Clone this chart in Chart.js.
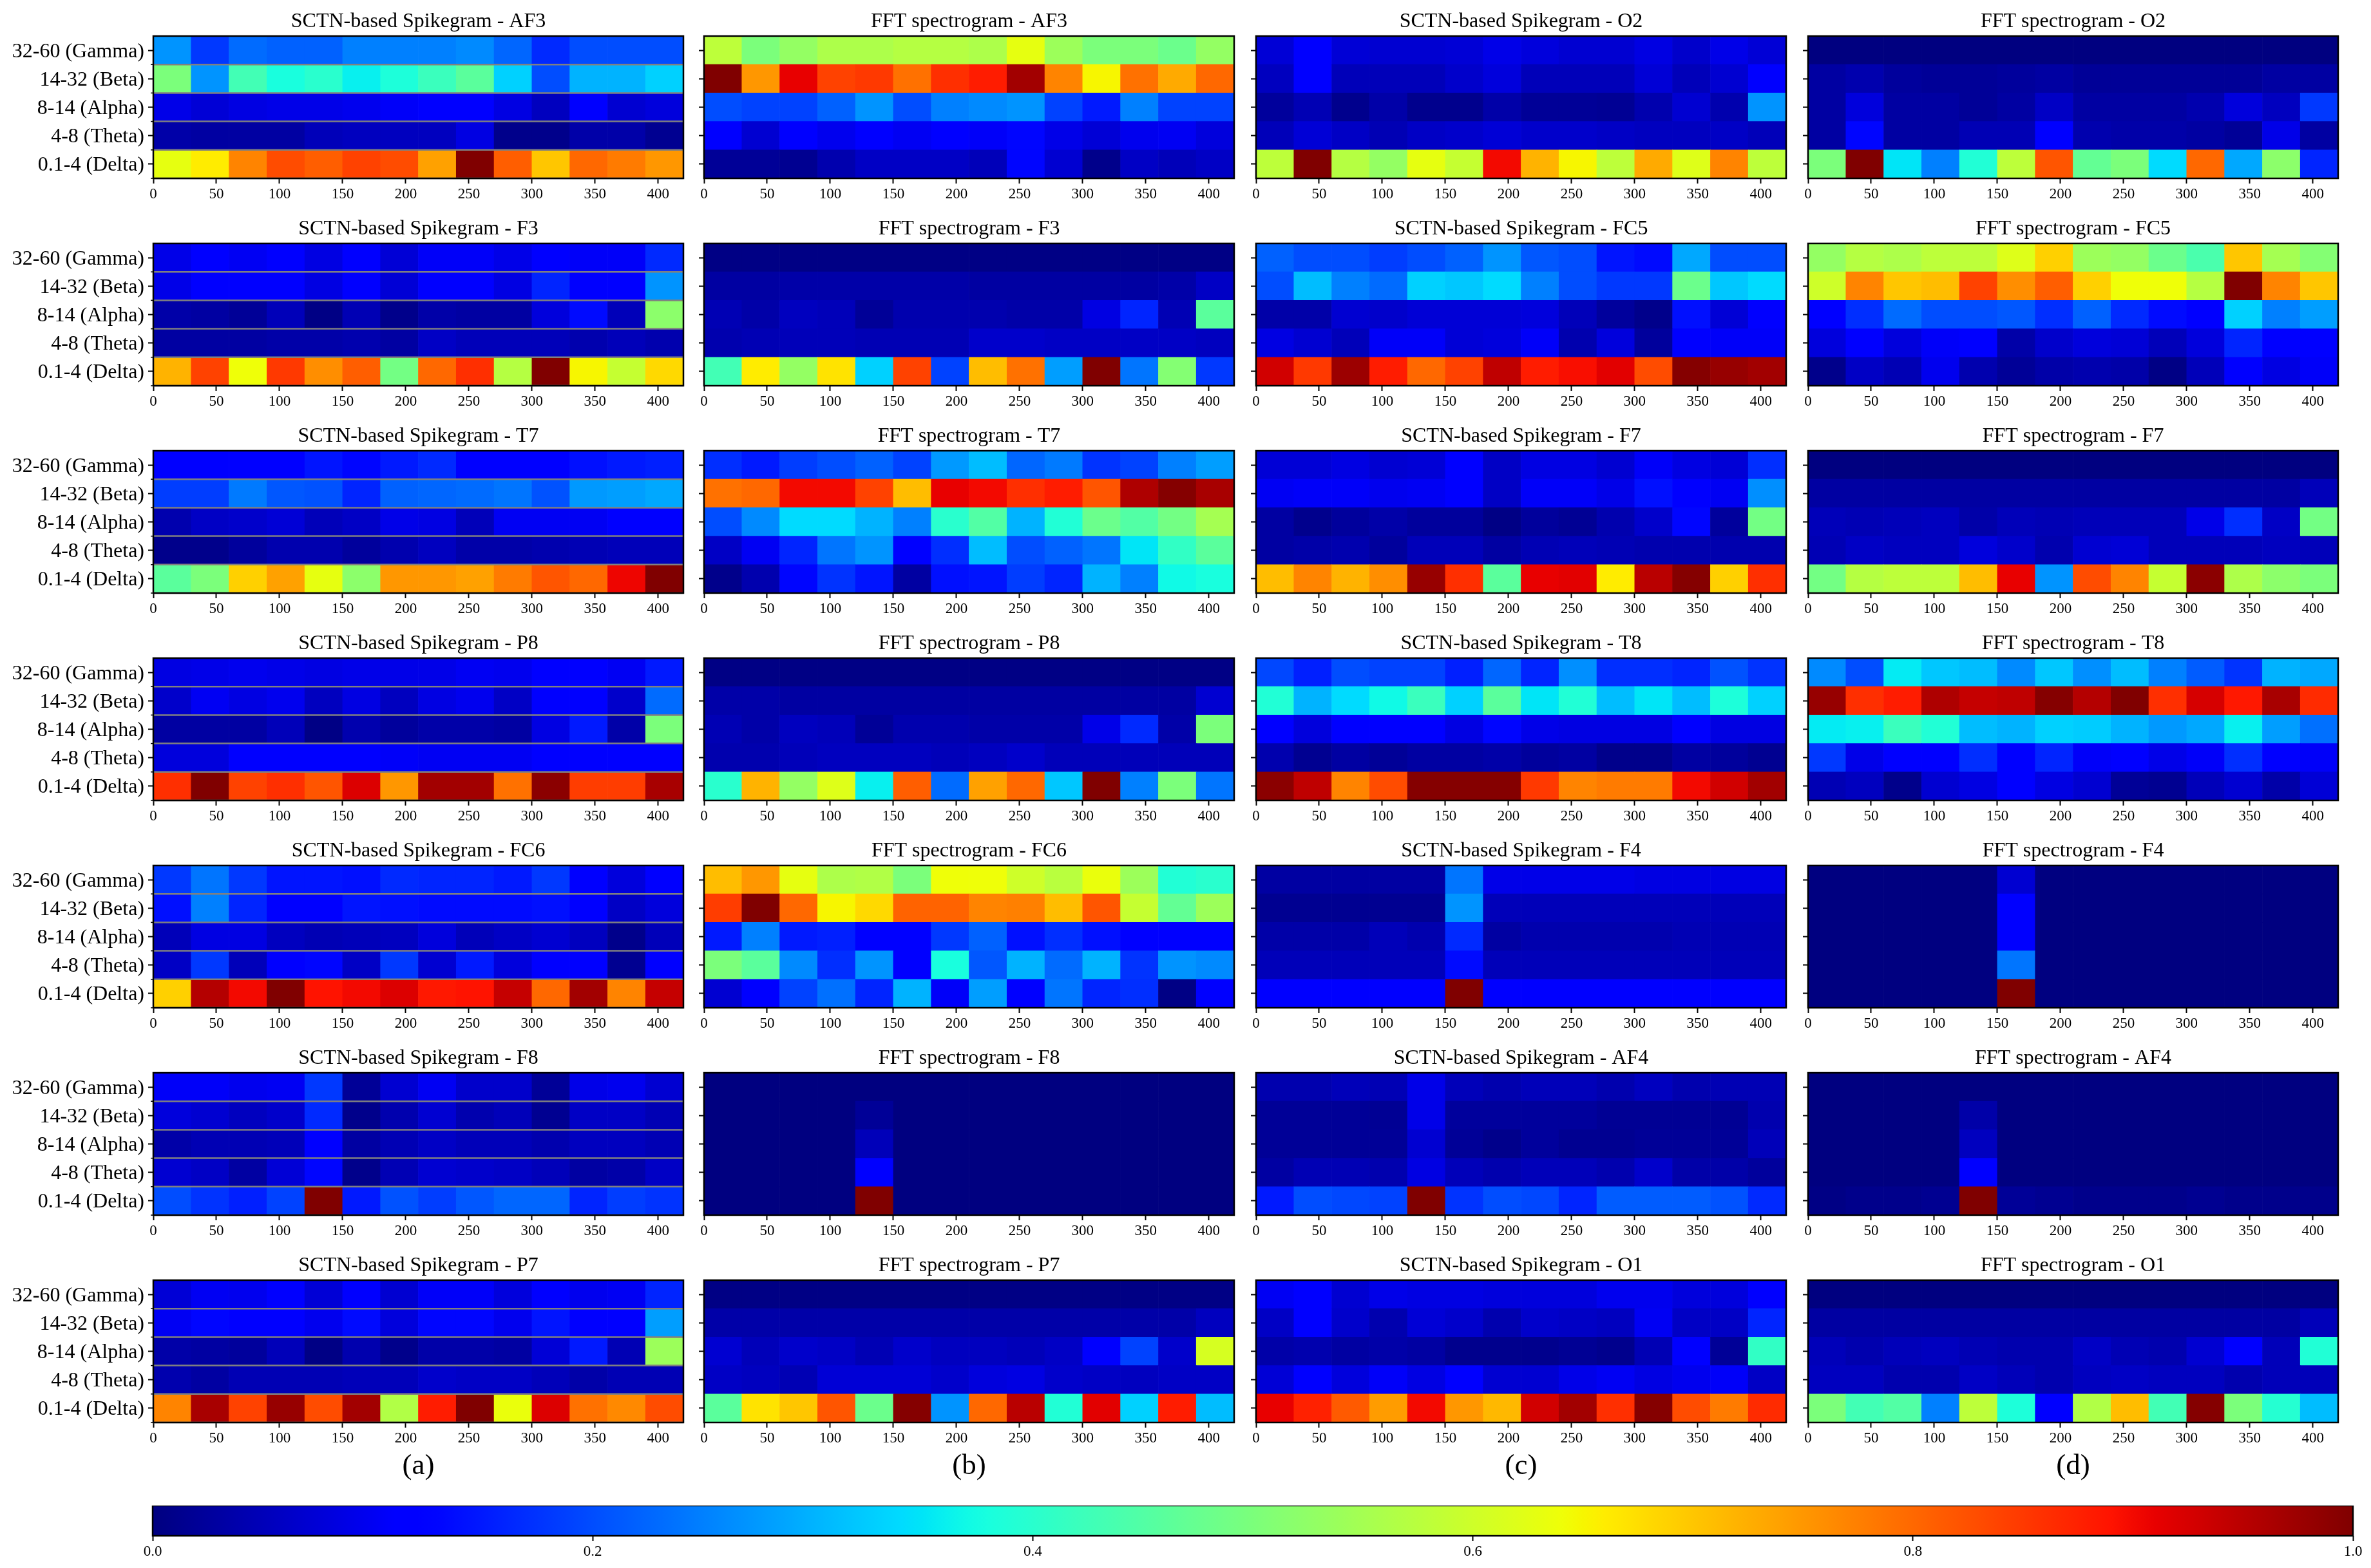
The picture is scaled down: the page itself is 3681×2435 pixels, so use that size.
<!DOCTYPE html>
<html>
<head>
<meta charset="utf-8">
<title>Spikegram and spectrogram</title>
<script src="https://cdn.jsdelivr.net/npm/chart.js@4/dist/chart.umd.min.js"></script>
<style>
  html, body { margin: 0; background: #fff; }
  #page { position: relative; width: 3681px; height: 2435px; overflow: hidden; background: #fff; }
  canvas { position: absolute; }
</style>
</head>
<body>
<div id="page"></div>
<script>
const bands = ['32-60 (Gamma)', '14-32 (Beta)', '8-14 (Alpha)', '4-8 (Theta)', '0.1-4 (Delta)'];
const timeBins = [0, 30, 60, 90, 120, 150, 180, 210, 240, 270, 300, 330, 360, 390];
const colorbarRange = [0, 1];
const colLabels = ['(a)', '(b)', '(c)', '(d)'];

// row order in each table follows bands (Gamma on top), columns follow timeBins
const sctnAF3 = [
  [.27,.18,.23,.22,.22,.25,.25,.25,.26,.225,.165,.2,.2,.2],
  [.5,.27,.43,.38,.4,.36,.385,.42,.46,.33,.2,.3,.3,.33],
  [.09,.075,.085,.09,.09,.095,.105,.115,.115,.085,.055,.115,.07,.08],
  [.035,.03,.03,.03,.05,.055,.055,.055,.085,.01,.01,.035,.035,.015],
  [.63,.66,.77,.83,.81,.84,.83,.74,1,.81,.7,.8,.78,.75]
];
const fftAF3 = [
  [.58,.5,.53,.56,.56,.57,.57,.56,.63,.54,.5,.5,.48,.53],
  [1,.75,.91,.84,.85,.79,.86,.88,.97,.77,.65,.79,.73,.8],
  [.2,.19,.19,.22,.27,.2,.25,.26,.27,.19,.15,.25,.19,.19],
  [.115,.07,.12,.095,.125,.1,.115,.105,.13,.09,.075,.095,.1,.08],
  [.02,.02,.015,.04,.06,.06,.06,.05,.13,.07,.01,.06,.05,.06]
];
const sctnO2 = [
  [.075,.115,.075,.07,.07,.075,.09,.08,.07,.07,.085,.065,.09,.075],
  [.055,.115,.05,.05,.05,.065,.08,.05,.05,.05,.075,.05,.07,.115],
  [.025,.045,.012,.035,.012,.012,.035,.02,.02,.018,.04,.07,.04,.27],
  [.05,.075,.06,.045,.06,.065,.075,.065,.065,.06,.055,.055,.06,.05],
  [.58,1,.57,.53,.63,.59,.9,.72,.65,.58,.73,.62,.77,.58]
];
const fftO2 = [
  [0,0,0,0,0,0,0,0,0,0,0,0,0,0],
  [.03,.04,.025,.02,.02,.025,.03,.02,.02,.02,.02,.02,.03,.03],
  [.03,.08,.03,.03,.02,.03,.06,.03,.03,.03,.04,.08,.055,.18],
  [.03,.13,.03,.03,.045,.045,.125,.04,.035,.035,.03,.02,.09,.03],
  [.5,1,.35,.25,.39,.58,.82,.47,.5,.34,.8,.29,.52,.16]
];
const sctnF3 = [
  [.09,.115,.1,.115,.085,.125,.075,.105,.105,.09,.125,.105,.105,.165],
  [.09,.125,.11,.12,.085,.115,.075,.12,.12,.085,.16,.12,.115,.27],
  [.035,.03,.02,.05,.005,.045,.01,.035,.03,.03,.08,.135,.05,.52],
  [.03,.03,.03,.035,.035,.04,.03,.06,.05,.05,.05,.04,.05,.04],
  [.72,.84,.64,.85,.76,.81,.49,.8,.86,.57,1,.65,.59,.68]
];
const fftF3 = [
  [.005,.005,.005,.005,.005,.005,.005,.005,.005,.005,.005,.005,.005,.005],
  [.03,.03,.035,.035,.035,.035,.035,.03,.03,.03,.03,.03,.035,.06],
  [.045,.035,.055,.05,.02,.04,.04,.04,.035,.035,.085,.16,.045,.46],
  [.04,.045,.05,.05,.045,.045,.045,.065,.065,.06,.06,.06,.06,.055],
  [.43,.66,.53,.67,.33,.84,.19,.71,.79,.28,1,.24,.51,.18]
];
const sctnFC5 = [
  [.22,.2,.2,.185,.2,.22,.27,.21,.2,.145,.135,.29,.2,.2],
  [.2,.31,.25,.23,.33,.32,.34,.25,.2,.18,.18,.48,.32,.34],
  [.035,.035,.07,.065,.075,.075,.075,.08,.05,.025,.01,.14,.075,.125],
  [.085,.07,.05,.105,.105,.075,.08,.105,.04,.08,.025,.12,.105,.105],
  [.93,.85,.975,.88,.8,.84,.945,.88,.895,.915,.83,.995,.98,.97]
];
const fftFC5 = [
  [.53,.57,.56,.58,.58,.62,.69,.54,.53,.48,.44,.7,.55,.51],
  [.6,.77,.7,.71,.84,.76,.81,.69,.64,.64,.57,1,.77,.7],
  [.125,.17,.23,.2,.2,.21,.17,.22,.165,.135,.125,.33,.25,.28],
  [.08,.125,.08,.105,.125,.035,.065,.08,.075,.05,.08,.16,.125,.11],
  [.01,.06,.045,.095,.04,.02,.035,.04,.035,.005,.05,.125,.085,.105]
];
const sctnT7 = [
  [.125,.125,.12,.125,.145,.13,.15,.165,.125,.125,.125,.14,.15,.155],
  [.185,.185,.245,.21,.205,.16,.22,.225,.23,.24,.205,.275,.28,.29],
  [.04,.06,.065,.075,.05,.06,.09,.085,.05,.1,.1,.1,.12,.12],
  [.01,.01,.025,.04,.04,.025,.04,.055,.035,.035,.04,.045,.05,.05],
  [.46,.5,.69,.74,.63,.52,.75,.75,.74,.78,.82,.8,.905,1]
];
const fftT7 = [
  [.17,.15,.185,.2,.22,.19,.275,.31,.225,.245,.175,.19,.25,.28],
  [.79,.8,.9,.9,.84,.71,.91,.9,.86,.88,.82,.96,.995,.965],
  [.2,.26,.34,.34,.3,.25,.4,.45,.3,.39,.48,.45,.49,.55],
  [.06,.1,.16,.24,.27,.125,.17,.31,.2,.22,.24,.35,.41,.46],
  [.01,.04,.13,.175,.145,.03,.14,.145,.185,.16,.3,.25,.37,.38]
];
const sctnF7 = [
  [.075,.075,.085,.07,.075,.115,.06,.085,.085,.07,.105,.085,.075,.17],
  [.1,.105,.105,.095,.1,.11,.06,.105,.105,.09,.14,.115,.1,.265],
  [.03,.012,.025,.035,.025,.025,.005,.025,.018,.04,.065,.13,.025,.49],
  [.03,.035,.04,.025,.05,.05,.03,.045,.05,.045,.04,.04,.04,.04],
  [.71,.77,.72,.76,.98,.86,.46,.91,.915,.66,.95,.995,.69,.86]
];
const fftF7 = [
  [0,0,0,0,0,0,0,0,0,0,0,0,0,0],
  [.03,.03,.03,.03,.03,.03,.03,.03,.03,.03,.03,.03,.03,.05],
  [.05,.045,.05,.055,.035,.05,.045,.05,.05,.05,.09,.17,.06,.49],
  [.045,.06,.055,.055,.08,.065,.04,.07,.075,.05,.05,.05,.055,.05],
  [.49,.57,.58,.58,.71,.91,.27,.83,.77,.59,.99,.56,.52,.5]
];
const sctnP8 = [
  [.085,.09,.095,.09,.085,.09,.09,.09,.1,.095,.11,.11,.1,.15],
  [.065,.1,.085,.095,.055,.085,.055,.085,.095,.06,.125,.11,.065,.23],
  [.03,.03,.03,.05,.005,.04,.025,.035,.035,.03,.085,.15,.035,.5],
  [.08,.08,.115,.11,.115,.125,.105,.1,.1,.1,.12,.115,.11,.11],
  [.86,1,.84,.86,.82,.92,.75,.97,.97,.79,.99,.845,.845,.965]
];
const fftP8 = [
  [.005,.005,.005,.005,.005,.005,.005,.005,.005,.005,.005,.005,.005,.005],
  [.035,.035,.03,.03,.03,.03,.03,.03,.03,.03,.03,.03,.03,.07],
  [.045,.035,.055,.05,.02,.04,.04,.035,.035,.035,.09,.165,.035,.5],
  [.04,.04,.05,.055,.055,.055,.05,.055,.065,.05,.05,.05,.05,.05],
  [.4,.72,.53,.62,.36,.81,.23,.74,.8,.32,1,.25,.5,.24]
];
const sctnT8 = [
  [.195,.155,.2,.19,.19,.155,.225,.16,.265,.17,.17,.16,.205,.175],
  [.39,.3,.34,.37,.42,.33,.46,.35,.39,.31,.35,.31,.385,.33],
  [.125,.08,.125,.125,.125,.085,.13,.09,.085,.085,.085,.125,.085,.085],
  [.04,.015,.03,.02,.03,.03,.035,.025,.03,.01,.01,.03,.025,.015],
  [.99,.945,.77,.83,.995,.995,.995,.85,.77,.78,.78,.9,.93,.97]
];
const fftT8 = [
  [.26,.2,.355,.32,.31,.26,.32,.265,.31,.25,.215,.175,.3,.29],
  [.98,.86,.88,.96,.94,.945,.995,.955,1,.86,.925,.885,.965,.865],
  [.355,.36,.42,.39,.31,.3,.33,.325,.3,.275,.29,.36,.28,.235],
  [.18,.09,.125,.125,.17,.125,.16,.105,.11,.09,.105,.17,.115,.105],
  [.045,.055,.01,.07,.085,.12,.085,.07,.02,.015,.05,.07,.035,.075]
];
const sctnFC6 = [
  [.18,.24,.18,.145,.145,.14,.165,.16,.16,.15,.18,.115,.08,.12],
  [.14,.25,.16,.12,.12,.145,.14,.135,.135,.135,.14,.125,.06,.08],
  [.05,.085,.085,.055,.045,.05,.055,.08,.05,.06,.07,.055,.01,.05],
  [.06,.18,.05,.125,.13,.06,.18,.07,.15,.08,.125,.12,.015,.125],
  [.69,.955,.9,1,.89,.9,.92,.885,.89,.94,.8,.97,.77,.94]
];
const fftFC6 = [
  [.71,.75,.63,.56,.565,.5,.64,.64,.6,.575,.635,.54,.39,.4],
  [.845,1,.8,.65,.68,.805,.805,.77,.775,.71,.82,.59,.47,.54],
  [.15,.25,.15,.155,.125,.12,.18,.22,.14,.17,.14,.125,.125,.125],
  [.5,.46,.26,.17,.27,.125,.38,.21,.3,.23,.3,.175,.27,.26],
  [.07,.12,.19,.235,.16,.3,.105,.28,.12,.24,.16,.17,.005,.125]
];
const sctnF4 = [
  [.03,.03,.03,.03,.03,.24,.09,.09,.09,.09,.085,.085,.085,.085],
  [.015,.015,.015,.015,.015,.27,.05,.05,.05,.05,.05,.05,.05,.05],
  [.035,.035,.035,.05,.04,.165,.03,.04,.04,.04,.04,.045,.045,.045],
  [.05,.05,.05,.05,.05,.135,.05,.05,.05,.05,.05,.05,.05,.05],
  [.125,.125,.125,.125,.125,1,.125,.125,.125,.125,.125,.125,.125,.125]
];
const fftF4 = [
  [0,0,0,0,0,.07,0,0,0,0,0,0,0,0],
  [0,0,0,0,0,.125,0,0,0,0,0,0,0,0],
  [0,0,0,0,0,.125,0,0,0,0,0,0,0,0],
  [0,0,0,0,0,.24,0,0,0,0,0,0,0,0],
  [0,0,0,0,0,1,0,0,0,0,0,0,0,0]
];
const sctnF8 = [
  [.105,.105,.095,.1,.18,.02,.07,.1,.065,.065,.02,.09,.095,.07],
  [.08,.07,.055,.065,.165,.01,.04,.07,.04,.05,.015,.06,.06,.045],
  [.035,.045,.045,.05,.125,.03,.045,.06,.05,.05,.04,.055,.055,.045],
  [.07,.06,.03,.075,.13,.01,.045,.07,.065,.06,.05,.03,.035,.06],
  [.2,.175,.155,.19,1,.15,.205,.185,.21,.225,.225,.16,.185,.175]
];
const fftF8 = [
  [0,0,0,0,0,0,0,0,0,0,0,0,0,0],
  [0,0,0,0,.02,0,0,0,0,0,0,0,0,0],
  [0,0,0,0,.05,0,0,0,0,0,0,0,0,0],
  [0,0,0,0,.125,0,0,0,0,0,0,0,0,0],
  [0,0,0,0,1,0,0,0,0,0,0,0,0,0]
];
const sctnAF4 = [
  [.04,.04,.05,.045,.09,.05,.04,.05,.05,.04,.055,.04,.045,.045],
  [.02,.02,.02,.018,.09,.025,.025,.025,.025,.018,.018,.018,.018,.04],
  [.02,.02,.02,.02,.07,.02,.01,.025,.015,.015,.02,.02,.02,.05],
  [.03,.045,.045,.04,.085,.05,.04,.05,.05,.04,.065,.035,.035,.025],
  [.15,.2,.195,.19,1,.175,.2,.195,.16,.215,.215,.215,.205,.165]
];
const fftAF4 = [
  [0,0,0,0,0,0,0,0,0,0,0,0,0,0],
  [0,0,0,0,.035,0,0,0,0,0,0,0,0,0],
  [0,0,0,0,.055,0,0,0,0,0,0,0,0,0],
  [0,0,0,0,.125,0,0,0,0,0,0,0,0,0],
  [.005,.01,.01,.015,1,.02,.015,.01,.01,.01,.015,.01,.01,.01]
];
const sctnP7 = [
  [.075,.1,.095,.115,.075,.12,.07,.105,.105,.08,.12,.095,.1,.16],
  [.1,.13,.12,.115,.095,.135,.08,.13,.13,.095,.145,.125,.125,.28],
  [.035,.03,.025,.05,.005,.04,.01,.035,.035,.03,.075,.15,.045,.54],
  [.04,.03,.045,.045,.045,.05,.05,.065,.06,.06,.05,.035,.045,.045],
  [.77,.965,.84,.98,.83,.97,.565,.88,1,.635,.92,.79,.765,.83]
];
const fftP7 = [
  [.005,.005,.005,.005,.005,.005,.005,.005,.005,.005,.005,.005,.005,.005],
  [.035,.035,.035,.035,.035,.035,.035,.035,.035,.035,.035,.035,.035,.055],
  [.07,.05,.065,.06,.045,.065,.055,.055,.05,.06,.125,.19,.065,.61],
  [.06,.055,.045,.075,.075,.075,.065,.08,.085,.065,.06,.055,.06,.06],
  [.46,.67,.7,.82,.48,.995,.27,.8,.95,.39,.915,.33,.88,.31]
];
const sctnO1 = [
  [.1,.115,.07,.09,.085,.085,.08,.08,.08,.095,.095,.08,.08,.12],
  [.06,.115,.065,.04,.075,.065,.04,.065,.06,.055,.1,.06,.06,.16],
  [.035,.04,.03,.035,.03,.012,.012,.012,.018,.012,.045,.115,.02,.41],
  [.075,.115,.08,.105,.085,.115,.07,.07,.09,.1,.085,.095,.105,.06],
  [.91,.875,.815,.745,.9,.75,.715,.93,.97,.86,.995,.83,.78,.865]
];
const fftO1 = [
  [0,0,0,0,0,0,0,0,0,0,0,0,0,0],
  [.03,.03,.03,.03,.03,.03,.03,.03,.03,.03,.03,.03,.03,.05],
  [.05,.04,.05,.055,.045,.04,.04,.06,.045,.04,.07,.125,.05,.39],
  [.055,.055,.04,.04,.06,.05,.04,.055,.06,.055,.055,.04,.05,.05],
  [.5,.43,.45,.25,.58,.385,.115,.565,.71,.43,.995,.5,.395,.31]
];

const grid = [
  [['AF3', sctnAF3], ['AF3', fftAF3], ['O2', sctnO2], ['O2', fftO2]],
  [['F3', sctnF3], ['F3', fftF3], ['FC5', sctnFC5], ['FC5', fftFC5]],
  [['T7', sctnT7], ['T7', fftT7], ['F7', sctnF7], ['F7', fftF7]],
  [['P8', sctnP8], ['P8', fftP8], ['T8', sctnT8], ['T8', fftT8]],
  [['FC6', sctnFC6], ['FC6', fftFC6], ['F4', sctnF4], ['F4', fftF4]],
  [['F8', sctnF8], ['F8', fftF8], ['AF4', sctnAF4], ['AF4', fftAF4]],
  [['P7', sctnP7], ['P7', fftP7], ['O1', sctnO1], ['O1', fftO1]]
];

Chart.defaults.font.family = '"Liberation Serif", serif';
Chart.defaults.color = '#000';
Chart.defaults.animation = false;

// matplotlib jet
function jet(v) {
  const ramp = (pts) => {
    for (let i = 1; i < pts.length; i++) {
      if (v <= pts[i][0]) {
        const t = (v - pts[i - 1][0]) / (pts[i][0] - pts[i - 1][0]);
        return pts[i - 1][1] + t * (pts[i][1] - pts[i - 1][1]);
      }
    }
    return pts[pts.length - 1][1];
  };
  const r = ramp([[0, 0], [.35, 0], [.66, 1], [.89, 1], [1, .5]]);
  const g = ramp([[0, 0], [.125, 0], [.375, 1], [.64, 1], [.91, 0], [1, 0]]);
  const b = ramp([[0, .5], [.11, 1], [.34, 1], [.65, 0], [1, 0]]);
  return `rgb(${Math.round(r * 255)},${Math.round(g * 255)},${Math.round(b * 255)})`;
}

// frame round the plot, plus the grey row lines that only the first column has
const framePlugin = {
  id: 'frame',
  afterDatasetsDraw(chart, args, opts) {
    const { ctx, chartArea: a, scales } = chart;
    ctx.save();
    if (opts.rowLines) {
      for (let i = 0; i < bands.length; i++) {
        const y = scales.y.getPixelForValue(i);
        ctx.strokeStyle = '#808080';
        ctx.lineWidth = 2.5;
        ctx.beginPath();
        ctx.moveTo(a.left, y);
        ctx.lineTo(a.right, y);
        ctx.stroke();
        ctx.strokeStyle = '#000';
        ctx.lineWidth = 1.5;
        ctx.beginPath();
        ctx.moveTo(a.left - 4, y);
        ctx.lineTo(a.left, y);
        ctx.stroke();
      }
    }
    ctx.strokeStyle = '#000';
    ctx.lineWidth = 2.5;
    ctx.strokeRect(a.left, a.top, a.width, a.height);
    ctx.restore();
  }
};

const page = document.getElementById('page');
function addCanvas(left, top, width, height) {
  const c = document.createElement('canvas');
  c.width = width;
  c.height = height;
  c.style.left = left + 'px';
  c.style.top = top + 'px';
  c.style.width = width + 'px';
  c.style.height = height + 'px';
  page.appendChild(c);
  return c;
}

function drawPanel(name, table, row, col) {
  const plotLeft = [238, 1093, 1950, 2807][col];
  const plotTop = 56 + 322 * row;
  const plotW = 823, plotH = 221;
  const titleH = 54;
  const axisW = col === 0 ? 238 : 12;
  const axisH = row === 6 ? 95 : 44;
  const rightPad = 6;

  const points = [], colors = [];
  table.forEach((vals, r) => {
    vals.forEach((v, c) => {
      const lo = bands.length - 1 - r;
      points.push({ x: timeBins[c] + 15, y: [lo, lo + 1] });
      colors.push(jet(v));
    });
  });

  const canvas = addCanvas(plotLeft - axisW, plotTop - titleH, axisW + plotW + rightPad, titleH + plotH + axisH);
  new Chart(canvas, {
    type: 'bar',
    data: {
      datasets: [{
        data: points,
        backgroundColor: colors,
        borderWidth: 0,
        barPercentage: 1,
        categoryPercentage: 1
      }]
    },
    plugins: [framePlugin],
    options: {
      responsive: false,
      devicePixelRatio: 1,
      events: [],
      layout: { autoPadding: false, padding: { right: rightPad } },
      plugins: {
        legend: { display: false },
        tooltip: { enabled: false },
        frame: { rowLines: col === 0 },
        title: {
          display: true,
          fullSize: false,
          text: (col % 2 === 0 ? 'SCTN-based Spikegram - ' : 'FFT spectrogram - ') + name,
          font: { size: 32, weight: 'normal', lineHeight: 1.2 },
          color: '#000',
          padding: { top: 12.5, bottom: 3.1 }
        }
      },
      scales: {
        x: {
          type: 'linear',
          offset: false,
          min: 0,
          max: 420,
          afterFit: (s) => { s.height = axisH; },
          grid: { offset: false, drawOnChartArea: false, drawTicks: true, tickLength: 8, tickWidth: 2, tickColor: '#000' },
          border: { display: false },
          ticks: { stepSize: 50, includeBounds: false, autoSkip: false, maxRotation: 0, padding: 3, font: { size: 23 } },
          title: {
            display: row === 6,
            text: colLabels[col],
            font: { size: 45, lineHeight: 1.2 },
            padding: 0
          }
        },
        y: {
          type: 'linear',
          min: 0,
          max: bands.length,
          afterFit: (s) => { s.width = axisW; },
          afterBuildTicks: (s) => { s.ticks = bands.map((b, i) => ({ value: i + 0.5 })); },
          grid: { drawOnChartArea: false, drawTicks: true, tickLength: 8, tickWidth: 2, tickColor: '#000' },
          border: { display: false },
          ticks: {
            display: col === 0,
            autoSkip: false,
            padding: 6,
            labelOffset: 2,
            font: { size: 32 },
            callback: (v) => bands[bands.length - 1 - Math.floor(v)]
          }
        }
      }
    }
  });
}

grid.forEach((cells, row) => {
  cells.forEach(([name, table], col) => drawPanel(name, table, row, col));
});

// colour bar along the bottom
function drawColorbar() {
  const left = 237, right = 3653, top = 2338, h = 47, axisH = 60;
  const rightPad = 3681 - right;
  const canvas = addCanvas(0, top, 3681, h + axisH);
  new Chart(canvas, {
    type: 'bar',
    data: {
      labels: [''],
      datasets: [{
        data: [colorbarRange],
        backgroundColor: (c) => {
          const a = c.chart.chartArea;
          if (!a) return jet(0.5);
          const g = c.chart.ctx.createLinearGradient(a.left, 0, a.right, 0);
          for (let i = 0; i <= 100; i++) g.addColorStop(i / 100, jet(i / 100));
          return g;
        },
        borderWidth: 0,
        barPercentage: 1,
        categoryPercentage: 1
      }]
    },
    plugins: [framePlugin],
    options: {
      indexAxis: 'y',
      responsive: false,
      devicePixelRatio: 1,
      events: [],
      layout: { autoPadding: false, padding: { left: left, right: rightPad } },
      plugins: { legend: { display: false }, tooltip: { enabled: false }, frame: { rowLines: false } },
      scales: {
        x: {
          type: 'linear',
          min: 0,
          max: 1,
          afterFit: (s) => { s.height = axisH; },
          grid: { drawOnChartArea: false, drawTicks: true, tickLength: 8, tickWidth: 2, tickColor: '#000' },
          border: { display: false },
          ticks: { stepSize: 0.2, autoSkip: false, maxRotation: 0, padding: 3, font: { size: 23 }, callback: (v) => v.toFixed(1) }
        },
        y: { display: false }
      }
    }
  });
}
drawColorbar();
</script>
</body>
</html>
